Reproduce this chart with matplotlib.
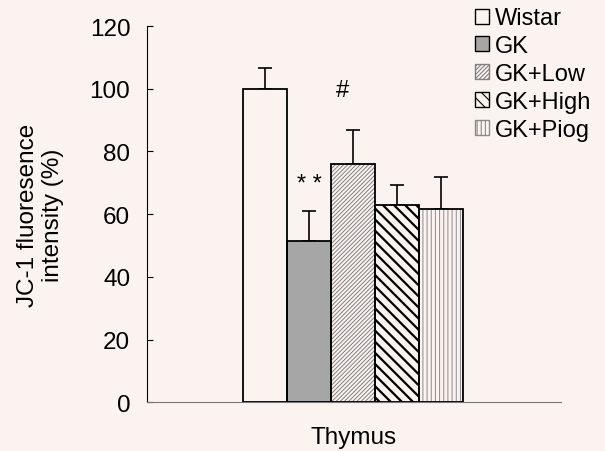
import matplotlib.pyplot as plt
from matplotlib.patches import Patch

plt.rcParams['font.family'] = ['Liberation Sans', 'DejaVu Sans']

groups = ['Wistar', 'GK', 'GK+Low', 'GK+High', 'GK+Piog']
means = [100, 51.5, 76, 63, 61.5]
errors = [6.5, 9.5, 10.7, 6.3, 10.2]
annotations = ['', '* *', '#', '', '']
annot_y = [0, 66, 96, 0, 0]
annot_dx = [0, 0, -0.25, 0, 0]

bg = '#fbf3f0'
faces = [bg, '#a6a6a6', bg, bg, bg]
hatches = [None, None, '////////', '\\\\\\', '||||']
hatch_colors = ['black', 'black', '#808080', 'black', '#8a8a8a']
hatch_widths = [1, 1, 0.7, 1.6, 0.7]

fig = plt.figure(figsize=(6.05, 4.52), dpi=100, facecolor=bg)
ax = fig.add_axes([0.243, 0.108, 0.684, 0.832], facecolor=bg)

x = list(range(len(groups)))
for i in x:
    plt.rcParams['hatch.linewidth'] = hatch_widths[i]
    bars = ax.bar(x[i], means[i], width=1.0, color=faces[i], hatch=hatches[i],
                  edgecolor=hatch_colors[i], linewidth=0, zorder=2)
    for b in bars:
        if hasattr(b, 'set_hatch_linewidth'):
            b.set_hatch_linewidth(hatch_widths[i])
    ax.bar(x[i], means[i], width=1.0, color='none', edgecolor='black',
           linewidth=1.3, zorder=3)
    ax.errorbar(x[i], means[i], yerr=[[0], [errors[i]]], fmt='none',
                ecolor='black', elinewidth=1.2, capsize=5, capthick=1.2, zorder=1)
    if annotations[i]:
        ax.text(x[i] + annot_dx[i], annot_y[i], annotations[i],
                ha='center', va='bottom', fontsize=17)

ax.set_xlim(-2.69, 6.72)
ax.set_ylim(0, 120)
ax.set_yticks(range(0, 121, 20))
ax.set_xticks([])
ax.tick_params(axis='y', direction='in', length=4, labelsize=17.5, pad=12)
ax.spines['top'].set_visible(False)
ax.spines['right'].set_visible(False)
ax.spines['bottom'].set_color('#777777')
ax.set_xlabel('Thymus', fontsize=17.5, labelpad=17)
ax.set_ylabel('JC-1 fluoresence\nintensity (%)', fontsize=17.5)
ax.yaxis.set_label_coords(-0.2, 0.5)

plt.rcParams['hatch.linewidth'] = 0.8
handles = [Patch(facecolor=faces[i], edgecolor=hatch_colors[i] if hatches[i] else 'black',
                 hatch=hatches[i], linewidth=1) for i in x]
fig.legend(handles, groups, loc='upper left', bbox_to_anchor=(0.768, 1.005),
           frameon=False, fontsize=17, handlelength=0.6, handleheight=0.6,
           handletextpad=0.25, labelspacing=0.25, borderaxespad=0.05)

fig.savefig('out.png', dpi=100, facecolor=bg)
